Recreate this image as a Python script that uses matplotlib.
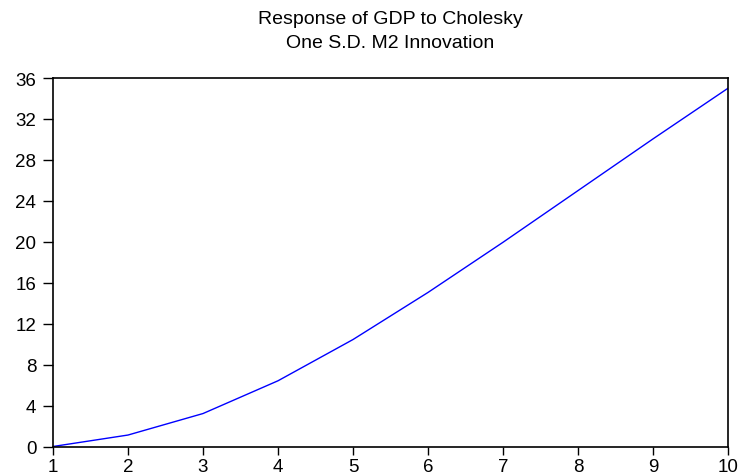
import matplotlib
matplotlib.use("Agg")
import matplotlib.pyplot as plt

# impulse response, periods 1..10
periods = [1, 2, 3, 4, 5, 6, 7, 8, 9, 10]
response = [0.0, 1.12, 3.22, 6.42, 10.45, 15.05, 19.95, 25.0, 30.05, 35.0]
y_ticks = [0, 4, 8, 12, 16, 20, 24, 28, 32, 36]

plt.rcParams["font.family"] = ["Liberation Sans", "DejaVu Sans"]

fig = plt.figure(figsize=(7.43, 4.77), dpi=100)
ax = fig.add_axes([53 / 743, 1 - 447.5 / 477, 675 / 743, 368.5 / 477])

ax.plot(periods, response, color="#0000ff", linewidth=1.0)
ax.set_xlim(1, 10)
ax.set_ylim(0, 36)
ax.set_xticks(periods)
ax.set_yticks(y_ticks)
ax.tick_params(axis="y", direction="out", length=7, width=1, labelsize=13.5, pad=5)
ax.tick_params(axis="x", direction="out", length=6, width=1, labelsize=13.5, pad=2)
for spine in ax.spines.values():
    spine.set_color("#000000")
    spine.set_linewidth(1.2)

fig.text(390.5 / 743, 1 - 19 / 477, "Response of GDP to Cholesky", ha="center", va="center", fontsize=14)
fig.text(390.5 / 743, 1 - 43 / 477, "One S.D. M2 Innovation", ha="center", va="center", fontsize=14)

fig.savefig("out.png", dpi=100)
